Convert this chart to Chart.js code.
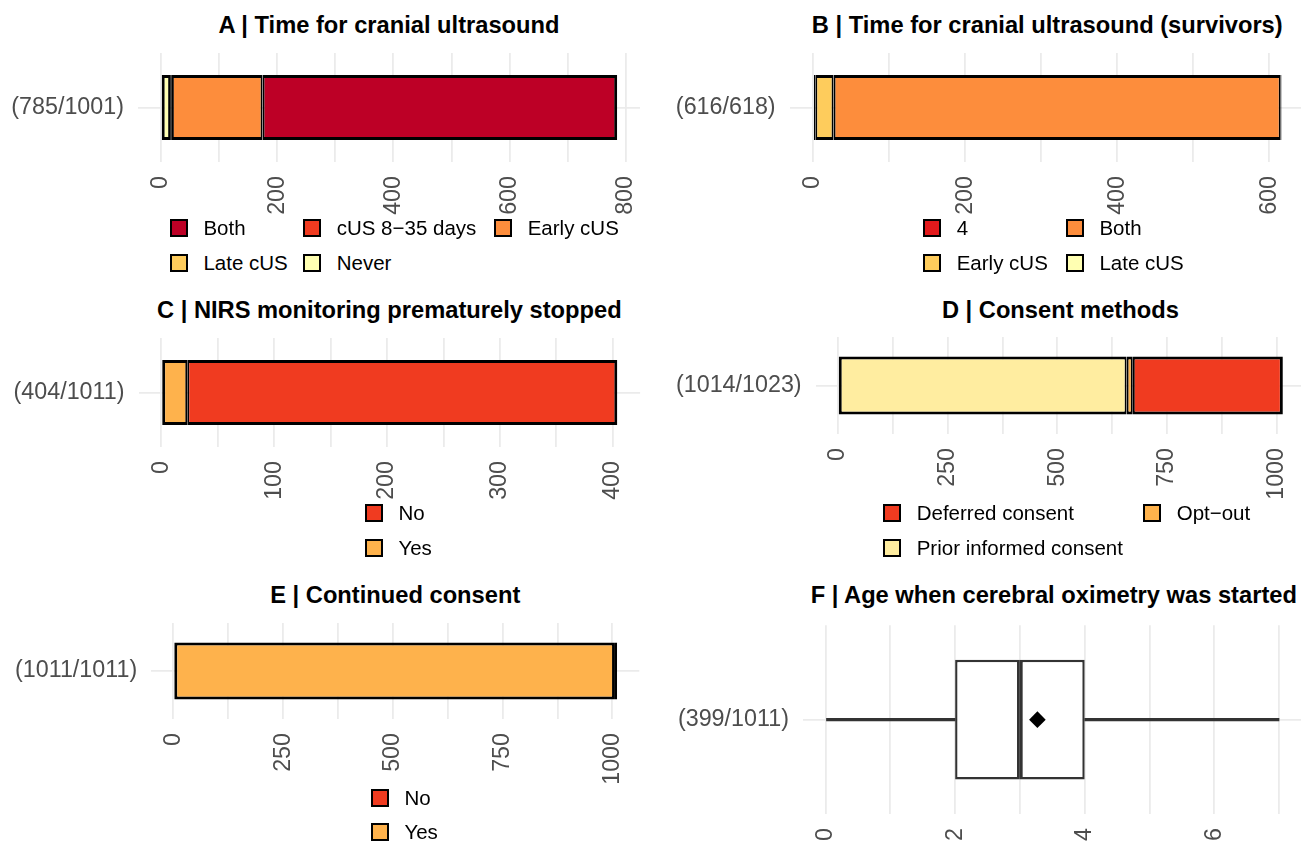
<!DOCTYPE html>
<html>
<head>
<meta charset="utf-8">
<script src="https://cdn.jsdelivr.net/npm/chart.js@4.4.1/dist/chart.umd.min.js"></script>
<style>
  html, body { margin: 0; padding: 0; width: 1301px; height: 842px; overflow: hidden; background: #fff;
    font-family: 'Liberation Sans', Arial, sans-serif; }
  .panel { position: absolute; }
  .title { position: absolute; font-weight: bold; font-size: 23.7px; line-height: 30px; height: 30px;
    white-space: nowrap; transform: translateX(-50%); color: #000; }
  .key { position: absolute; width: 18px; height: 18px; box-sizing: border-box; border: 2px solid #000; }
  .lab { position: absolute; font-size: 20.5px; line-height: 24px; height: 24px; white-space: nowrap; color: #000; }
</style>
</head>
<body>
<script>
// ---- data -------------------------------------------------------------
// A | Time for cranial ultrasound (legend order; stacked right-to-left)
const catA = ['Both', 'cUS 8\u221235 days', 'Early cUS', 'Late cUS', 'Never'];
const valA = [610, 0, 156, 3, 16];
const rowA = '(785/1001)';
const tickA = [0, 200, 400, 600, 800];

// B | Time for cranial ultrasound (survivors)
const catB = ['4', 'Both', 'Early cUS', 'Late cUS'];
const valB = [1, 588, 24, 3];
const rowB = '(616/618)';
const tickB = [0, 200, 400, 600];

// C | NIRS monitoring prematurely stopped
const catC = ['No', 'Yes'];
const valC = [381, 23];
const rowC = '(404/1011)';
const tickC = [0, 100, 200, 300, 400];

// D | Consent methods
const catD = ['Deferred consent', 'Opt\u2212out', 'Prior informed consent'];
const valD = [342, 14, 658];
const rowD = '(1014/1023)';
const tickD = [0, 250, 500, 750, 1000];

// E | Continued consent
const catE = ['No', 'Yes'];
const valE = [7, 1004];
const rowE = '(1011/1011)';
const tickE = [0, 250, 500, 750, 1000];

// F | Age when cerebral oximetry was started: min, Q1, median, Q3, max
const rowF = '(399/1011)';
const boxF = [0, 2, 3, 4, 7];
const meanF = 3.27;
const tickF = [0, 2, 4, 6];

// ---- palettes (YlOrRd) ------------------------------------------------
const colA = ['#BD0026', '#F03B20', '#FD8D3C', '#FECC5C', '#FFFFB2'];
const colB = ['#E31A1C', '#FD8D3C', '#FECC5C', '#FFFFB2'];
const colC = ['#F03B20', '#FEB24C'];
const colD = ['#F03B20', '#FEB24C', '#FFEDA0'];
const colE = ['#F03B20', '#FEB24C'];

// ---- layout -----------------------------------------------------------
Chart.defaults.font.family = "'Liberation Sans', Arial, sans-serif";
Chart.defaults.color = '#4D4D4D';
const GRID = '#EBEBEB';
const AXIS_FONT = 23.3;
const LEFT_COL = [0, 650];
const RIGHT_COL = [650, 1310];

function el(cls, x, y, w, h) {
  const d = document.createElement('div');
  d.className = cls;
  d.style.left = x + 'px';
  d.style.top = y + 'px';
  if (w != null) d.style.width = w + 'px';
  if (h != null) d.style.height = h + 'px';
  document.body.appendChild(d);
  return d;
}

function makeCanvas(rect, col) {
  const box = { cx: col[0], cy: rect.t - 6, cw: col[1] - col[0] };
  box.ch = rect.b - box.cy + 72;
  const d = el('panel', box.cx, box.cy, box.cw, box.ch);
  const c = document.createElement('canvas');
  c.width = box.cw; c.height = box.ch;
  c.style.width = box.cw + 'px'; c.style.height = box.ch + 'px';
  d.appendChild(c);
  box.canvas = c;
  return box;
}

// ggplot-style 5% expansion of the data range
function limits(lo, hi) {
  const pad = 0.05 * (hi - lo);
  return [lo - pad, hi + pad];
}

function noPad(ax) {
  ax.paddingTop = 0; ax.paddingBottom = 0; ax.paddingLeft = 0; ax.paddingRight = 0;
}

function buildScales(rect, box, ticks, lim, stacked) {
  const half = (ticks[1] - ticks[0]) / 2;
  const grid = [];
  for (let v = ticks[0]; v <= lim[1] + 1e-9; v += half) grid.push(v);
  return {
    x: {
      type: 'linear', min: lim[0], max: lim[1], stacked: stacked,
      afterBuildTicks: ax => { ax.ticks = grid.map(v => ({ value: v })); },
      afterFit: ax => { ax.height = box.ch - (rect.b - box.cy); noPad(ax); },
      ticks: {
        autoSkip: false, minRotation: 90, maxRotation: 90, padding: 14,
        font: { size: AXIS_FONT }, color: '#4D4D4D',
        callback: v => (ticks.indexOf(v) >= 0 ? String(v) : '')
      },
      grid: { color: GRID, lineWidth: 1.8, drawTicks: false },
      border: { display: false }
    },
    y: {
      type: 'category', stacked: stacked,
      afterFit: ax => { ax.width = rect.l - box.cx; noPad(ax); },
      ticks: { padding: 14, font: { size: AXIS_FONT }, color: '#4D4D4D' },
      grid: { color: GRID, lineWidth: 1.8, drawTicks: false, offset: false },
      border: { display: false }
    }
  };
}

function baseOptions(rect, box, scales) {
  return {
    indexAxis: 'y',
    responsive: false,
    devicePixelRatio: 1,
    animation: false,
    events: [],
    layout: { padding: { left: 0, top: rect.t - box.cy, right: box.cx + box.cw - rect.r, bottom: 0 } },
    plugins: { legend: { display: false }, tooltip: { enabled: false }, title: { display: false } },
    scales: scales
  };
}

function title(text, rect, capY) {
  const d = el('title', (rect.l + rect.r) / 2, capY - 15);
  d.textContent = text;
}

function legend(cats, colors, cols, keyX, rowY) {
  cats.forEach((c, i) => {
    const r = Math.floor(i / cols), k = i % cols;
    const key = el('key', keyX[k], rowY[r] - 9);
    key.style.background = colors[i];
    const t = el('lab', keyX[k] + 33.4, rowY[r] - 12);
    t.textContent = c;
  });
}

function stackedPanel(opts) {
  const { rect, col, cats, vals, colors, row, ticks } = opts;
  const box = makeCanvas(rect, col);
  const total = vals.reduce((a, b) => a + b, 0);
  const lim = limits(0, total);
  const n = cats.length;
  const datasets = [];
  // the last legend entry sits at the left end of the bar
  for (let i = n - 1; i >= 0; i--) {
    datasets.push({
      label: cats[i],
      data: [vals[i]],
      backgroundColor: colors[i],
      borderColor: '#000',
      borderWidth: { top: 3, bottom: 3, left: i === n - 1 ? 3 : 2, right: i === 0 ? 3 : 2 },
      borderSkipped: false,
      barPercentage: 0.596,
      categoryPercentage: 1
    });
  }
  new Chart(box.canvas, {
    type: 'bar',
    data: { labels: [row], datasets: datasets },
    options: baseOptions(rect, box, buildScales(rect, box, ticks, lim, true))
  });
}

// ---- panels -----------------------------------------------------------
const rectA = { l: 138, r: 640, t: 53, b: 162 };
const rectB = { l: 789.6, r: 1304.9, t: 53, b: 162 };
const rectC = { l: 138.5, r: 640.1, t: 338, b: 447 };
const rectD = { l: 815.6, r: 1305.1, t: 337, b: 434 };
const rectE = { l: 151.2, r: 639.3, t: 623, b: 719 };
const rectF = { l: 802.9, r: 1304.7, t: 623, b: 814 };

stackedPanel({ rect: rectA, col: LEFT_COL, cats: catA, vals: valA, colors: colA, row: rowA, ticks: tickA });
stackedPanel({ rect: rectB, col: RIGHT_COL, cats: catB, vals: valB, colors: colB, row: rowB, ticks: tickB });
stackedPanel({ rect: rectC, col: LEFT_COL, cats: catC, vals: valC, colors: colC, row: rowC, ticks: tickC });
stackedPanel({ rect: rectD, col: RIGHT_COL, cats: catD, vals: valD, colors: colD, row: rowD, ticks: tickD });
stackedPanel({ rect: rectE, col: LEFT_COL, cats: catE, vals: valE, colors: colE, row: rowE, ticks: tickE });

// F: box plot built from floating bars plus a mean marker
(function () {
  const rect = rectF;
  const box = makeCanvas(rect, RIGHT_COL);
  const lim = limits(boxF[0], boxF[4]);
  const dark = '#333333';
  const whisker = (a, b) => ({
    data: [[a, b]], backgroundColor: dark, borderWidth: 0, barThickness: 2.4, grouped: false
  });
  const half = (a, b, lw, rw) => ({
    data: [[a, b]], backgroundColor: '#FFFFFF', borderColor: dark,
    borderWidth: { top: 2.4, bottom: 2.4, left: lw, right: rw },
    borderSkipped: false, barPercentage: 0.634, categoryPercentage: 1, grouped: false
  });
  new Chart(box.canvas, {
    type: 'bar',
    data: {
      labels: [rowF],
      datasets: [
        { type: 'line', indexAxis: 'y', data: [meanF], showLine: false, pointStyle: 'rectRot',
          pointRadius: 8.3, pointBackgroundColor: '#000', pointBorderWidth: 0, order: -1 },
        whisker(boxF[0], boxF[1]),
        half(boxF[1], boxF[2], 2.4, 2.9),
        half(boxF[2], boxF[3], 2.9, 2.4),
        whisker(boxF[3], boxF[4])
      ]
    },
    options: baseOptions(rect, box, buildScales(rect, box, tickF, lim, false))
  });
})();

// ---- titles -----------------------------------------------------------
title('A | Time for cranial ultrasound', rectA, 25);
title('B | Time for cranial ultrasound (survivors)', rectB, 25);
title('C | NIRS monitoring prematurely stopped', rectC, 310);
title('D | Consent methods', rectD, 310);
title('E | Continued consent', rectE, 595);
title('F | Age when cerebral oximetry was started', rectF, 595);

// ---- legends ----------------------------------------------------------
legend(catA, colA, 3, [170, 303.3, 494.3], [228, 263]);
legend(catB, colB, 2, [923.3, 1066], [228, 263]);
legend(catC, colC, 1, [365], [512.5, 547.5]);
legend(catD, colD, 2, [883.3, 1143.3], [512.5, 547.5]);
legend(catE, colE, 1, [371], [797.5, 832]);
</script>
</body>
</html>
